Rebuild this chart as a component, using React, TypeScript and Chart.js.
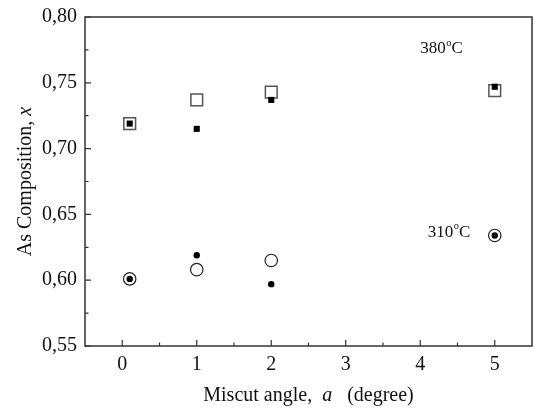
import React, { useEffect, useRef } from "react";
import { Chart, registerables } from "chart.js";

Chart.register(...registerables);

// ---- data ----
const x380 = [0.1, 1, 2, 5];
const open380 = [0.719, 0.737, 0.743, 0.744];
const filled380 = [0.719, 0.715, 0.737, 0.747];

const x310 = [0.1, 1, 2, 5];
const open310 = [0.601, 0.608, 0.615, 0.634];
const filled310 = [0.601, 0.619, 0.597, 0.634];

const xTicks = [0, 1, 2, 3, 4, 5];
const yTicks = [0.55, 0.6, 0.65, 0.7, 0.75, 0.8];

const tempLabels = ["380", "310"];
const tempLabelX = [4.0, 4.1];
const tempLabelY = [0.7726, 0.633];

const FONT = "'Liberation Serif', 'DejaVu Serif', serif";
const AXIS_COLOR = "#333";
const TITLE_SIZE = 20;
const TICK_SIZE = 20;

function pts(xs: number[], ys: number[]) {
  return xs.map((x, i) => ({ x, y: ys[i] }));
}

const framePlugin = {
  id: "frame",
  afterDraw(chart: any) {
    const { ctx, chartArea, scales } = chart;
    const { left, right, top, bottom } = chartArea;
    const xs = scales.x;
    const ys = scales.y;
    ctx.save();
    ctx.strokeStyle = AXIS_COLOR;
    ctx.lineWidth = 1.5;
    ctx.strokeRect(left, top, right - left, bottom - top);
    ctx.lineWidth = 1.2;
    ctx.beginPath();
    for (let v = 0; v <= 5; v++) {
      const px = xs.getPixelForValue(v);
      ctx.moveTo(px, bottom);
      ctx.lineTo(px, bottom - 6);
    }
    for (let v = 0.5; v < 5; v += 1) {
      const px = xs.getPixelForValue(v);
      ctx.moveTo(px, bottom);
      ctx.lineTo(px, bottom - 3.5);
    }
    for (let i = 0; i < yTicks.length; i++) {
      const py = ys.getPixelForValue(yTicks[i]);
      ctx.moveTo(left, py);
      ctx.lineTo(left + 6, py);
    }
    for (let i = 0; i < yTicks.length - 1; i++) {
      const py = ys.getPixelForValue((yTicks[i] + yTicks[i + 1]) / 2);
      ctx.moveTo(left, py);
      ctx.lineTo(left + 3.5, py);
    }
    ctx.stroke();

    // temperature labels
    ctx.fillStyle = "#111";
    ctx.textBaseline = "alphabetic";
    ctx.textAlign = "left";
    for (let i = 0; i < tempLabels.length; i++) {
      let px = xs.getPixelForValue(tempLabelX[i]);
      const py = ys.getPixelForValue(tempLabelY[i]);
      ctx.font = `17px ${FONT}`;
      ctx.fillText(tempLabels[i], px, py);
      px += ctx.measureText(tempLabels[i]).width + 0.5;
      ctx.font = `10.5px ${FONT}`;
      ctx.fillText("o", px, py - 7.5);
      px += ctx.measureText("o").width;
      ctx.font = `17px ${FONT}`;
      ctx.fillText("C", px, py);
    }

    // x title
    const xParts = [
      { t: "Miscut angle,  ", i: false },
      { t: "a", i: true },
      { t: "   (degree)", i: false },
    ];
    const fNorm = `${TITLE_SIZE}px ${FONT}`;
    const fItal = `italic ${TITLE_SIZE}px ${FONT}`;
    let total = 0;
    for (const p of xParts) {
      ctx.font = p.i ? fItal : fNorm;
      total += ctx.measureText(p.t).width;
    }
    let cx = (left + right) / 2 - total / 2;
    for (const p of xParts) {
      ctx.font = p.i ? fItal : fNorm;
      ctx.fillText(p.t, cx, 401);
      cx += ctx.measureText(p.t).width;
    }

    // y title
    const yParts = [
      { t: "As Composition, ", i: false },
      { t: "x", i: true },
    ];
    total = 0;
    for (const p of yParts) {
      ctx.font = p.i ? fItal : fNorm;
      total += ctx.measureText(p.t).width;
    }
    ctx.translate(31, (top + bottom) / 2);
    ctx.rotate(-Math.PI / 2);
    let cy = -total / 2;
    for (const p of yParts) {
      ctx.font = p.i ? fItal : fNorm;
      ctx.fillText(p.t, cy, 0);
      cy += ctx.measureText(p.t).width;
    }
    ctx.restore();
  },
};

export default function App() {
  const ref = useRef<HTMLCanvasElement | null>(null);
  useEffect(() => {
    document.body.style.margin = "0";
    const canvas = ref.current;
    if (!canvas) return;
    const chart = new Chart(canvas, {
      type: "scatter",
      data: {
        datasets: [
          {
            label: "380 filled",
            data: pts(x380, filled380),
            pointStyle: "rect",
            pointRadius: 4.3,
            pointBackgroundColor: "#000",
            pointBorderColor: "#000",
            pointBorderWidth: 0,
            order: 0,
          },
          {
            label: "310 filled",
            data: pts(x310, filled310),
            pointStyle: "circle",
            pointRadius: 3.2,
            pointBackgroundColor: "#000",
            pointBorderColor: "#000",
            pointBorderWidth: 0,
            order: 0,
          },
          {
            label: "380 open",
            data: pts(x380, open380),
            pointStyle: "rect",
            pointRadius: 8.3,
            pointBackgroundColor: "#fff",
            pointBorderColor: "#555",
            pointBorderWidth: 1.5,
            order: 1,
          },
          {
            label: "310 open",
            data: pts(x310, open310),
            pointStyle: "circle",
            pointRadius: 6.2,
            pointBackgroundColor: "#fff",
            pointBorderColor: "#222",
            pointBorderWidth: 1.2,
            order: 1,
          },
        ],
      },
      options: {
        animation: false,
        responsive: false,
        layout: { autoPadding: false, padding: { top: 17, right: 3, left: 0, bottom: 0 } },
        plugins: {
          legend: { display: false },
          tooltip: { enabled: false },
        },
        scales: {
          x: {
            type: "linear",
            min: -0.5,
            max: 5.5,
            grid: { display: false, drawTicks: false },
            border: { display: false },
            afterBuildTicks: (s: any) => {
              s.ticks = xTicks.map((v) => ({ value: v }));
            },
            afterFit: (s: any) => {
              s.height = 63;
              s.paddingLeft = 0;
              s.paddingRight = 0;
            },
            ticks: {
              padding: 7,
              color: "#111",
              font: { family: FONT, size: TICK_SIZE },
              callback: (v: any) => String(v),
            },
          },
          y: {
            type: "linear",
            min: 0.55,
            max: 0.8,
            grid: { display: false, drawTicks: false },
            border: { display: false },
            afterBuildTicks: (s: any) => {
              s.ticks = yTicks.map((v) => ({ value: v }));
            },
            afterFit: (s: any) => {
              s.width = 85;
              s.paddingTop = 0;
              s.paddingBottom = 0;
            },
            ticks: {
              padding: 8,
              color: "#111",
              font: { family: FONT, size: TICK_SIZE },
              callback: (v: any) => Number(v).toFixed(2).replace(".", ","),
            },
          },
        },
      },
      plugins: [framePlugin],
    });
    return () => chart.destroy();
  }, []);
  return (
    <div style={{ width: 535, height: 409 }}>
      <canvas ref={ref} width={535} height={409} />
    </div>
  );
}
